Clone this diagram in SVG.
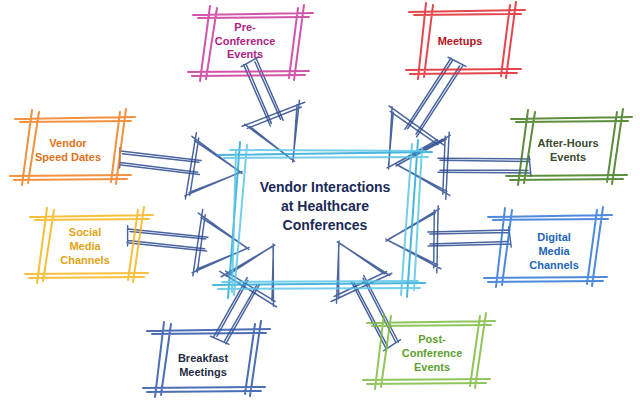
<svg xmlns="http://www.w3.org/2000/svg" xmlns:xlink="http://www.w3.org/1999/xlink" width="640" height="404" viewBox="0 0 640 404">
<style>
.sk{fill:none;stroke-linecap:round;stroke-width:2;stroke-opacity:.85}
.ar{fill:none;stroke:#2c4a8f;stroke-width:1.5;stroke-linecap:round;stroke-opacity:.85}
text{font-family:"Liberation Sans",Arial,sans-serif;font-weight:bold;text-anchor:middle}
.t{font-size:11px}
.c{font-size:14px;fill:#1b2a57}
</style>
<defs>
<g id="head"><path class="ar" d="M-50,-30 L4,1 M-47,-26 L1,-1 M-50,30 L4,-1 M-46,26 L1,1 M-46,-34 L-49,33 M-43,-29 L-45,29"/></g>
</defs>
<rect width="640" height="404" fill="#ffffff"/>
<g id="connectors">
<g transform="translate(292,158) rotate(66.4)"><use href="#head"/><path class="ar" d="M-105,-7 L-38,-7 M-103,-4.5 L-40,-5 M-105,7 L-38,7 M-104,4.5 L-40,5 M-106,-10 L-104,10"/></g>
<g transform="translate(390,165) rotate(123)"><use href="#head"/><path class="ar" d="M-123,-7 L-38,-7 M-121,-4.5 L-40,-5 M-123,7 L-38,7 M-122,4.5 L-40,5 M-124,-10 L-122,10"/></g>
<g transform="translate(238,172) rotate(6.8)"><use href="#head"/><path class="ar" d="M-119,-7 L-38,-7 M-117,-4.5 L-40,-5 M-119,7 L-38,7 M-118,4.5 L-40,5 M-120,-10 L-118,10"/></g>
<g transform="translate(245,248) rotate(5.9)"><use href="#head"/><path class="ar" d="M-118,-7 L-38,-7 M-116,-4.5 L-40,-5 M-118,7 L-38,7 M-117,4.5 L-40,5 M-119,-10 L-117,10"/></g>
<g transform="translate(400,165) rotate(180.4)"><use href="#head"/><path class="ar" d="M-130,-7 L-38,-7 M-128,-4.5 L-40,-5 M-130,7 L-38,7 M-129,4.5 L-40,5 M-131,-10 L-129,10"/></g>
<g transform="translate(390,240) rotate(178.6)"><use href="#head"/><path class="ar" d="M-120,-7 L-38,-7 M-118,-4.5 L-40,-5 M-120,7 L-38,7 M-119,4.5 L-40,5 M-121,-10 L-119,10"/></g>
<g transform="translate(272,248) rotate(-60.5)"><use href="#head"/><path class="ar" d="M-106,-7 L-38,-7 M-104,-4.5 L-40,-5 M-106,7 L-38,7 M-105,4.5 L-40,5 M-107,-10 L-105,10"/></g>
<g transform="translate(340,245) rotate(-117.5)"><use href="#head"/><path class="ar" d="M-113,-7 L-38,-7 M-111,-4.5 L-40,-5 M-113,7 L-38,7 M-112,4.5 L-40,5 M-114,-10 L-112,10"/></g>
</g>
<g id="center">
<path class="sk" stroke="#29a9d6" d="M218,155 L432,152 M213,285 L425,283 M240,142 L228,298 M418,140 L407,297"/>
<path class="sk" stroke="#5cc6e6" d="M224,158 L428,157 M230,150 L425,151 M218,289 L420,288 M222,282 L418,281 M247,145 L234,295 M236,150 L232,292 M412,144 L401,295 M422,148 L414,290"/>
<text class="c" x="325" y="192">Vendor Interactions</text>
<text class="c" x="325" y="211">at Healthcare</text>
<text class="c" x="325" y="230">Conferences</text>
</g>
<g id="pre">
<path class="sk" stroke="#c9379c" d="M193,15 L313,13 M198,18 L309,17 M188,72 L309,71 M192,76 L305,75 M210,6 L200,81 M217,8 L206,79 M304,5 L294,80 M298,8 L289,78"/>
<text class="t" fill="#b01e82" x="245" y="31">Pre-</text>
<text class="t" fill="#b01e82" x="245" y="45">Conference</text>
<text class="t" fill="#b01e82" x="245" y="58">Events</text>
</g>
<g id="meetups">
<path class="sk" stroke="#e0262e" d="M409,12 L525,10 M414,15 L521,14 M406,70 L521,69 M410,74 L517,73 M426,3 L418,79 M433,5 L424,77 M516,2 L506,78 M510,5 L501,76"/>
<text class="t" fill="#b3121d" x="460" y="45">Meetups</text>
</g>
<g id="vendor">
<path class="sk" stroke="#f07e1e" d="M15,119 L135,117 M20,122 L131,121 M10,176 L131,175 M14,180 L127,179 M32,110 L22,185 M39,112 L28,183 M126,109 L116,184 M120,112 L111,182"/>
<text class="t" fill="#e0731a" x="68" y="147">Vendor</text>
<text class="t" fill="#e0731a" x="68" y="161">Speed Dates</text>
</g>
<g id="social">
<path class="sk" stroke="#f4b41a" d="M30,217 L153,215 M35,220 L149,219 M25,274 L148,273 M29,278 L144,277 M47,208 L37,283 M54,210 L43,281 M144,207 L133,282 M138,210 L128,280"/>
<text class="t" fill="#e0a516" x="85" y="236">Social</text>
<text class="t" fill="#e0a516" x="85" y="250">Media</text>
<text class="t" fill="#e0a516" x="85" y="264">Channels</text>
</g>
<g id="afterhours">
<path class="sk" stroke="#3f7a1c" d="M511,119 L632,117 M516,122 L628,121 M506,176 L627,175 M510,180 L623,179 M528,110 L518,185 M535,112 L524,183 M623,109 L612,184 M617,112 L607,182"/>
<text class="t" fill="#3c4a30" x="568" y="147">After-Hours</text>
<text class="t" fill="#3c4a30" x="568" y="161">Events</text>
</g>
<g id="digital">
<path class="sk" stroke="#2f74d6" d="M488,217 L612,215 M493,220 L608,219 M484,278 L607,277 M488,282 L603,281 M505,208 L496,287 M512,210 L502,285 M603,207 L592,286 M597,210 L587,284"/>
<text class="t" fill="#1d66b8" x="554" y="241">Digital</text>
<text class="t" fill="#1d66b8" x="554" y="255">Media</text>
<text class="t" fill="#1d66b8" x="554" y="269">Channels</text>
</g>
<g id="breakfast">
<path class="sk" stroke="#2d55a8" d="M147,331 L270,329 M152,334 L266,333 M143,388 L265,387 M147,392 L261,391 M164,322 L155,397 M171,324 L161,395 M261,321 L250,396 M255,324 L245,394"/>
<text class="t" fill="#1f2b45" x="203" y="362">Breakfast</text>
<text class="t" fill="#1f2b45" x="203" y="376">Meetings</text>
</g>
<g id="post">
<path class="sk" stroke="#7dbb3f" d="M367,323 L495,321 M372,326 L491,325 M363,380 L490,379 M367,384 L486,383 M384,314 L375,389 M391,316 L381,387 M486,313 L475,388 M480,316 L470,386"/>
<text class="t" fill="#5ca12e" x="432" y="343">Post-</text>
<text class="t" fill="#5ca12e" x="432" y="357">Conference</text>
<text class="t" fill="#5ca12e" x="432" y="371">Events</text>
</g>
</svg>
